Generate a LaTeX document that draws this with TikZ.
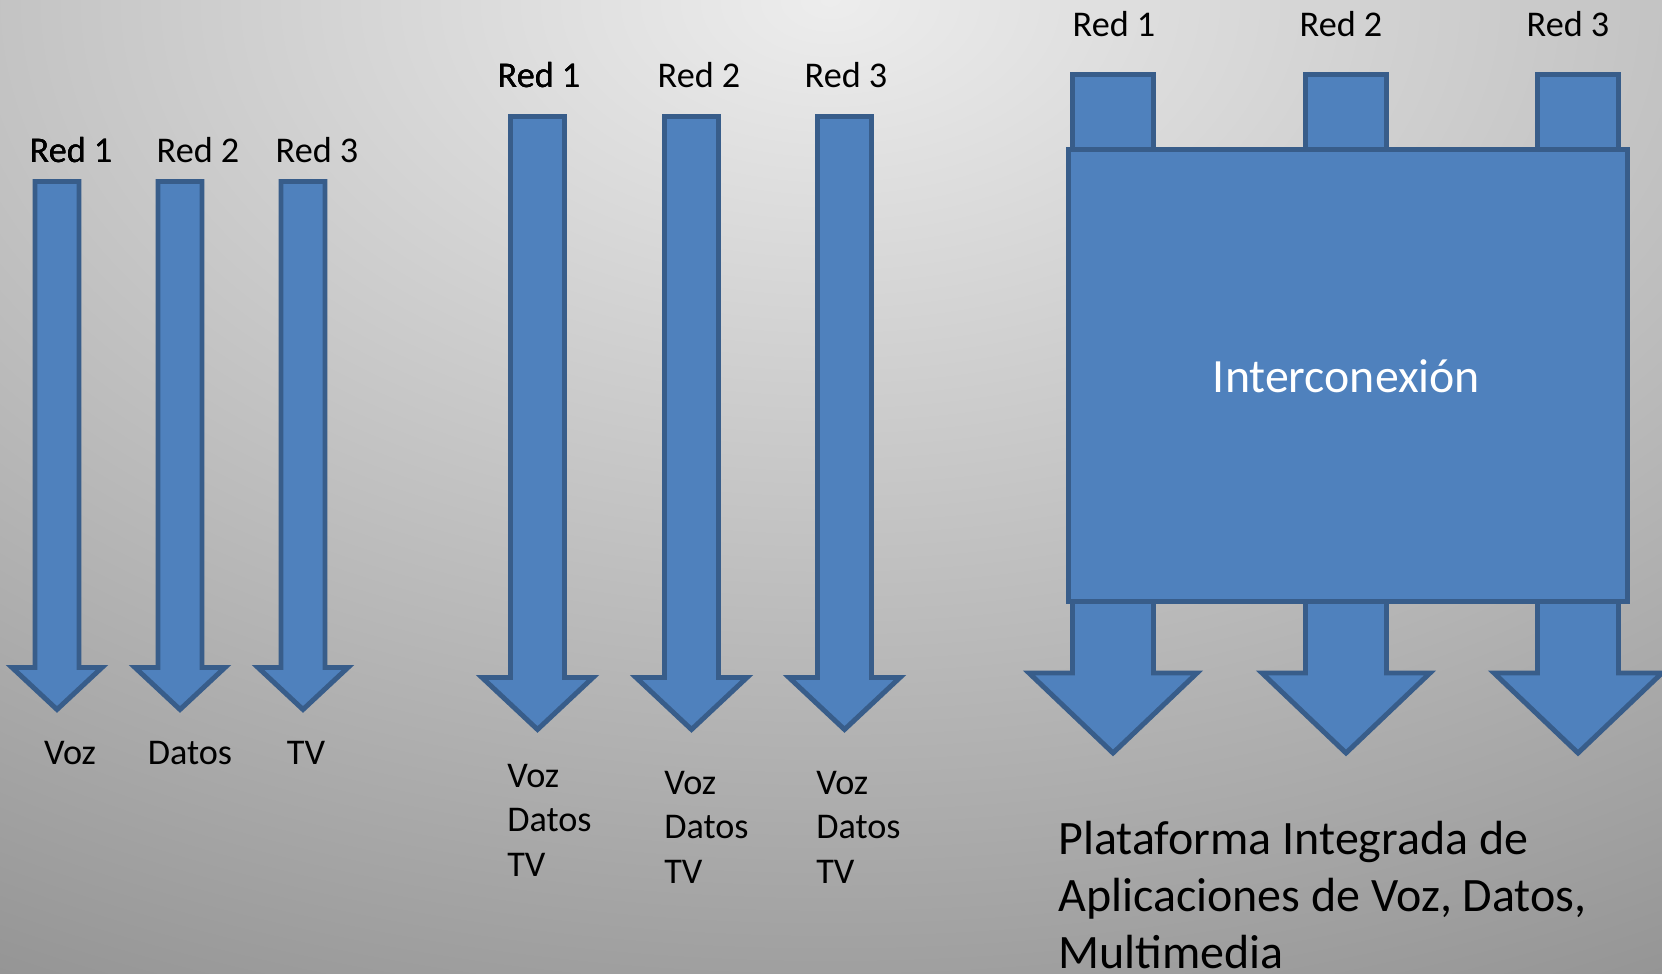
\documentclass[tikz,border=0pt]{standalone}
\usepackage{fontspec}
\setmainfont{Carlito}
\definecolor{bloque}{HTML}{4F81BD}
\definecolor{borde}{HTML}{385D8A}
\definecolor{fondoclaro}{HTML}{EDEDED}
\definecolor{fondooscuro}{HTML}{959595}
\tikzset{
  bloque flecha/.style={fill=bloque, draw=borde, line width=2.8pt, line join=miter},
  etiqueta/.style={inner sep=0pt, anchor=base, font=\fontsize{20.6}{24}\selectfont},
  linea/.style={inner sep=0pt, anchor=base west, font=\fontsize{20.6}{24}\selectfont},
}
% flecha hacia abajo: centro, arriba, medio ancho, inicio punta, medio ancho punta, punta
\newcommand{\flecha}[6]{%
  \path[bloque flecha] (#1-#3,#2) -- (#1+#3,#2) -- (#1+#3,#4) -- (#1+#5,#4)
    -- (#1,#6) -- (#1-#5,#4) -- (#1-#3,#4) -- cycle;}
\begin{document}
\begin{tikzpicture}[x=0.02cm, y=-0.02cm]
        % fondo
        \useasboundingbox (0,0) rectangle (1662,973);
        \begin{scope}
            \clip (0,0) rectangle (1662,973);
            \shade[inner color=fondoclaro, outer color=fondooscuro]
                (830,0) ellipse [x radius=35.2cm, y radius=22.1cm];
        \end{scope}

        % redes separadas
        \foreach \cx in {57,180,303}
            \flecha{\cx}{181.5}{22}{667.5}{45}{709.5}
        \node[etiqueta] (r1a) at (71,163) {Red 1};
        \node[etiqueta] (r2a) at (198,163) {Red 2};
        \node[etiqueta] (r3a) at (317,163) {Red 3};
        \node[etiqueta] (voz) at (70,764) {Voz};
        \node[etiqueta] (datos) at (190,764) {Datos};
        \node[etiqueta] (tv) at (306,764) {TV};

        % redes con todos los servicios
        \foreach \cx in {537.5,691.5,844.5}
            \flecha{\cx}{116.5}{27}{677.5}{55.5}{729.5}
        \node[etiqueta] (r1b) at (539,88) {Red 1};
        \node[etiqueta] (r2b) at (699,88) {Red 2};
        \node[etiqueta] (r3b) at (846,88) {Red 3};
        \foreach \i/\lx/\by in {1/507/787, 2/664/794, 3/816/794} {
            \node[linea] (voz\i) at (\lx,\by) {Voz};
            \node[linea] (datos\i) at (\lx,\by+44.5) {Datos};
            \node[linea] (tv\i) at (\lx,\by+89) {TV};
        }

        % plataforma integrada
        \foreach \cx in {1113,1346,1578} {
            \path[bloque flecha] (\cx-40.5,74.5) rectangle (\cx+40.5,200);
            \flecha{\cx}{580}{40.5}{673}{84}{753}
        }
        \node[bloque flecha, minimum width=559pt*0.569, minimum height=452pt*0.569,
              inner sep=0pt] (inter) at (1348,375.5) {};
        \node[inner sep=0pt, anchor=base, text=white, font=\fontsize{27.2}{32}\selectfont]
              (intertxt) at (1346.5,392) {Interconexión};
        \node[etiqueta] (r1c) at (1114,37) {Red 1};
        \node[etiqueta] (r2c) at (1341,37) {Red 2};
        \node[etiqueta] (r3c) at (1568,37) {Red 3};
        \node[linea, font=\fontsize{27.3}{32}\selectfont] (plat1) at (1058,854) {Plataforma Integrada de};
        \node[linea, font=\fontsize{27.3}{32}\selectfont] (plat2) at (1058,911) {Aplicaciones de Voz, Datos,};
        \node[linea, font=\fontsize{27.3}{32}\selectfont] (plat3) at (1058,968) {Multimedia};
    \end{tikzpicture}
\end{document}
